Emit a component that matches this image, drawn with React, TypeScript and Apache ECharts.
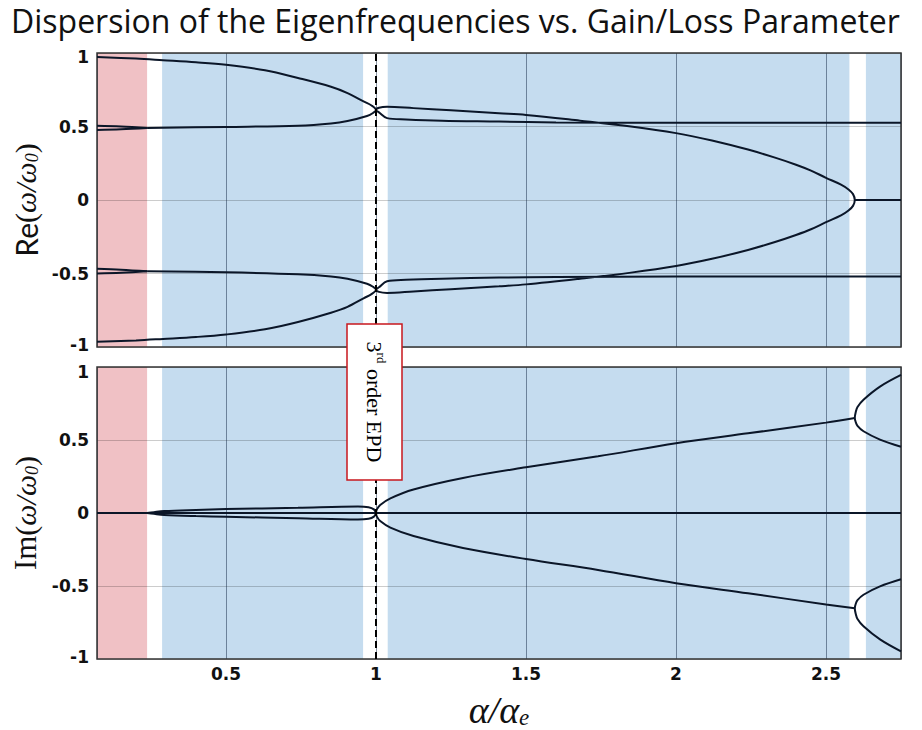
import React, { useEffect, useRef } from "react";
import * as echarts from "echarts";

// ---------- axis / layout values ----------
const X_MIN = 0.07;
const X_MAX = 2.75;
const EPD_ALPHA = 1;
const TITLE = "Dispersion of the Eigenfrequencies vs. Gain/Loss Parameter";
const EPD_LABEL = ["3", "rd", " order EPD"];

// shaded alpha ranges
const pinkBands: number[][] = [[0.07, 0.237]];
const blueBands: number[][] = [
  [0.287, 0.957],
  [1.039, 2.578],
  [2.633, 2.75],
];

// ---------- Re(ω/ω0) branches ----------
const reOuterHi = [[0.07, 0.973], [0.2, 0.962], [0.29, 0.951], [0.4, 0.937], [0.5, 0.92], [0.63, 0.883], [0.74, 0.83], [0.85, 0.77], [0.905, 0.727], [0.96, 0.669], [0.985, 0.643], [1.0, 0.613]];
const reInnerHi = [[0.237, 0.49], [0.5, 0.497], [0.74, 0.505], [0.85, 0.52], [0.905, 0.537], [0.97, 0.571], [0.99, 0.592], [1.0, 0.613]];
const rePinkHiA = [[0.07, 0.505], [0.15, 0.5], [0.237, 0.49]];
const rePinkHiB = [[0.07, 0.476], [0.15, 0.481], [0.237, 0.49]];
const reFlatHi = [[1.0, 0.613], [1.01, 0.596], [1.037, 0.557], [1.1, 0.548], [1.22, 0.539], [1.41, 0.534], [1.6, 0.528], [2.0, 0.525], [2.75, 0.525]];
const reLoopHi = [[1.0, 0.613], [1.01, 0.628], [1.037, 0.635], [1.125, 0.625], [1.25, 0.61], [1.41, 0.59], [1.5, 0.579], [1.68, 0.54], [1.85, 0.5], [2.0, 0.455], [2.12, 0.405], [2.24, 0.343], [2.33, 0.288], [2.4, 0.24], [2.45, 0.2], [2.5, 0.151], [2.55, 0.105], [2.575, 0.072], [2.59, 0.04], [2.596, 0]];

const reOuterLo = [[0.07, -0.965], [0.2, -0.955], [0.29, -0.945], [0.4, -0.932], [0.5, -0.915], [0.63, -0.88], [0.74, -0.83], [0.85, -0.767], [0.905, -0.727], [0.96, -0.667], [0.985, -0.64], [1.0, -0.61]];
const reInnerLo = [[0.237, -0.485], [0.5, -0.492], [0.74, -0.505], [0.85, -0.52], [0.905, -0.536], [0.97, -0.57], [0.99, -0.59], [1.0, -0.61]];
const rePinkLoA = [[0.07, -0.5], [0.15, -0.495], [0.237, -0.485]];
const rePinkLoB = [[0.07, -0.468], [0.15, -0.474], [0.237, -0.485]];
const reFlatLo = [[1.0, -0.61], [1.01, -0.594], [1.037, -0.553], [1.1, -0.543], [1.22, -0.535], [1.41, -0.528], [1.6, -0.523], [2.0, -0.521], [2.75, -0.521]];
const reLoopLo = [[1.0, -0.61], [1.01, -0.625], [1.037, -0.632], [1.125, -0.622], [1.25, -0.607], [1.41, -0.587], [1.5, -0.574], [1.68, -0.535], [1.85, -0.494], [2.0, -0.449], [2.12, -0.4], [2.24, -0.34], [2.33, -0.286], [2.4, -0.238], [2.45, -0.199], [2.5, -0.151], [2.55, -0.105], [2.575, -0.072], [2.59, -0.04], [2.596, 0]];

const reZero = [[2.596, 0], [2.75, 0]];

// ---------- Im(ω/ω0) branches ----------
const imZero = [[0.07, 0], [2.75, 0]];
const imLensHi = [[0.237, 0], [0.26, 0.006], [0.294, 0.013], [0.4, 0.021], [0.5, 0.027], [0.74, 0.036], [0.94, 0.045], [0.975, 0.04], [0.993, 0.025], [1.0, 0]];
const imLensLo = [[0.237, 0], [0.26, -0.006], [0.294, -0.013], [0.4, -0.021], [0.5, -0.026], [0.74, -0.036], [0.94, -0.045], [0.975, -0.04], [0.993, -0.025], [1.0, 0]];
const imBranchHi = [[1.0, 0], [1.003, 0.025], [1.014, 0.055], [1.048, 0.1], [1.125, 0.161], [1.29, 0.24], [1.5, 0.313], [1.74, 0.388], [2.0, 0.478], [2.24, 0.546], [2.5, 0.619], [2.596, 0.651]];
const imBranchLo = [[1.0, 0], [1.003, -0.025], [1.014, -0.055], [1.048, -0.1], [1.125, -0.158], [1.29, -0.24], [1.5, -0.315], [1.74, -0.39], [2.0, -0.481], [2.24, -0.55], [2.5, -0.626], [2.596, -0.652]];
const imSplitHi = [[2.75, 0.454], [2.68, 0.503], [2.625, 0.56], [2.605, 0.597], [2.599, 0.623], [2.596, 0.651], [2.599, 0.69], [2.605, 0.726], [2.625, 0.776], [2.68, 0.866], [2.75, 0.946]];
const imSplitLo = [[2.75, -0.454], [2.68, -0.503], [2.625, -0.56], [2.605, -0.597], [2.599, -0.623], [2.596, -0.652], [2.599, -0.69], [2.605, -0.726], [2.625, -0.776], [2.68, -0.866], [2.75, -0.948]];

const LINE_COLOR = "#0b1628";
const PINK = "#F0C1C5";
const BLUE = "#C5DCEF";

function curve(data: number[][], gi: number) {
  return {
    type: "line",
    xAxisIndex: gi,
    yAxisIndex: gi,
    data,
    symbol: "none",
    showSymbol: false,
    smooth: 0.35,
    silent: true,
    z: 4,
    lineStyle: { color: LINE_COLOR, width: 2 },
  };
}

function bandsSeries(gi: number) {
  const areas: any[] = [];
  pinkBands.forEach((b) => areas.push([{ xAxis: b[0], itemStyle: { color: PINK } }, { xAxis: b[1] }]));
  blueBands.forEach((b) => areas.push([{ xAxis: b[0], itemStyle: { color: BLUE } }, { xAxis: b[1] }]));
  return {
    type: "line",
    xAxisIndex: gi,
    yAxisIndex: gi,
    data: [[X_MIN, 0]],
    symbol: "none",
    lineStyle: { opacity: 0 },
    silent: true,
    z: 1,
    markArea: { silent: true, data: areas },
  };
}

function dashSeries(gi: number) {
  return {
    type: "line",
    xAxisIndex: gi,
    yAxisIndex: gi,
    data: [[X_MIN, 0]],
    symbol: "none",
    lineStyle: { opacity: 0 },
    silent: true,
    z: 5,
    markLine: {
      silent: true,
      symbol: "none",
      label: { show: false },
      lineStyle: { type: [7, 4], color: "#000", width: 2 },
      data: [{ xAxis: EPD_ALPHA }],
    },
  };
}

const tickFont = { fontFamily: "DejaVu Sans", fontWeight: "bold", fontSize: 17, color: "#111" };

function yLabels(topPad: number, botPad: number) {
  return {
    ...tickFont,
    margin: 8,
    formatter: (v: number) => (v === 1 ? "{t|1}" : v === -1 ? "{b|-1}" : "{n|" + v + "}"),
    rich: {
      t: { ...tickFont, padding: [topPad, 0, 0, 0] },
      b: { ...tickFont, padding: [0, 0, botPad, 0] },
      n: { ...tickFont },
    },
  };
}

const nameRich = {
  a: { fontFamily: "Lato", fontSize: 30, color: "#111" },
  r: { fontFamily: "Liberation Serif", fontSize: 31, color: "#111" },
  b: { fontFamily: "Liberation Serif", fontSize: 30, color: "#111" },
  c: { fontFamily: "Liberation Serif", fontStyle: "italic", fontSize: 30, color: "#111" },
  d: { fontFamily: "Liberation Serif", fontStyle: "italic", fontSize: 18, color: "#111", verticalAlign: "bottom" },
};

export default function App() {
  const ref = useRef<HTMLDivElement>(null);
  useEffect(() => {
    if (!ref.current) return;
    const chart = echarts.init(ref.current, undefined, { renderer: "svg" });
    const xBase = (gi: number) => ({
      type: "value",
      gridIndex: gi,
      min: X_MIN,
      max: X_MAX,
      splitNumber: 5,
      z: 2,
      axisLine: { show: false },
      axisTick: { show: false },
      splitLine: { show: true, lineStyle: { color: "rgba(20,40,70,0.5)", width: 1 } },
      axisLabel: gi === 1
        ? { ...tickFont, margin: 6, showMinLabel: false, showMaxLabel: false, formatter: (v: number) => (v < 0.4 || v > 2.6 ? "" : String(v)) }
        : { show: false },
    });
    const yBase = (gi: number) => ({
      type: "value",
      gridIndex: gi,
      min: -1,
      max: 1,
      interval: 0.5,
      z: 2,
      axisLine: { show: false },
      axisTick: { show: false },
      splitLine: { show: true, lineStyle: { color: "rgba(0,0,0,0.2)", width: 1 } },
    });
    const option: any = {
      animation: false,
      backgroundColor: "#fff",
      title: {
        text: TITLE,
        left: 6,
        top: -1,
        textStyle: { fontFamily: "Open Sans", fontWeight: "normal", fontSize: 32, color: "#111" },
      },
      grid: [
        { left: 97, right: 21, top: 53, height: 294, show: true, z: 3, backgroundColor: "transparent", borderColor: "#333", borderWidth: 1.5 },
        { left: 97, right: 21, top: 367, height: 295, show: true, z: 3, backgroundColor: "transparent", borderColor: "#333", borderWidth: 1.5 },
      ],
      xAxis: [
        xBase(0),
        {
          ...xBase(1),
          name: "{c|α/α}{d|e}",
          nameLocation: "middle",
          nameGap: 32,
          nameTextStyle: {
            rich: {
              c: { fontFamily: "Liberation Serif", fontStyle: "italic", fontSize: 38, color: "#111" },
              d: { fontFamily: "Liberation Serif", fontStyle: "italic", fontSize: 23, color: "#111", verticalAlign: "bottom" },
            },
          },
        },
      ],
      yAxis: [
        {
          ...yBase(0),
          axisLabel: yLabels(8, 4),
          name: "{a|Re}{b|(}{c|ω/ω}{d|0}{b|)}",
          nameLocation: "middle",
          nameRotate: 90,
          nameGap: 51,
          nameTextStyle: { rich: nameRich },
        },
        {
          ...yBase(1),
          axisLabel: yLabels(9, 4),
          name: "{r|Im}{b|(}{c|ω/ω}{d|0}{b|)}",
          nameLocation: "middle",
          nameRotate: 90,
          nameGap: 51,
          nameTextStyle: { rich: nameRich },
        },
      ],
      series: [
        bandsSeries(0),
        bandsSeries(1),
        dashSeries(0),
        dashSeries(1),
        curve(reOuterHi.concat(reInnerHi.slice().reverse()), 0),
        curve(rePinkHiA, 0),
        curve(rePinkHiB, 0),
        curve(reFlatHi.slice().reverse().concat(reLoopHi).concat(reLoopLo.slice().reverse()).concat(reFlatLo), 0),
        curve(reOuterLo.concat(reInnerLo.slice().reverse()), 0),
        curve(rePinkLoA, 0),
        curve(rePinkLoB, 0),
        curve(reZero, 0),
        curve(imZero, 1),
        curve(imLensHi, 1),
        curve(imLensLo, 1),
        curve(imBranchHi, 1),
        curve(imBranchLo, 1),
        curve(imSplitHi, 1),
        curve(imSplitLo, 1),
      ],
      graphic: [
        {
          type: "rect",
          z: 100,
          shape: { x: 347, y: 324, width: 55, height: 156 },
          style: { fill: "#fff", stroke: "#C8171E", lineWidth: 1.5 },
        },
        {
          type: "text",
          z: 101,
          x: 374.5,
          y: 402,
          rotation: -Math.PI / 2,
          style: {
            text: "{a|" + EPD_LABEL[0] + "}{s|" + EPD_LABEL[1] + "}{a|" + EPD_LABEL[2] + "}",
            align: "center",
            verticalAlign: "middle",
            rich: {
              a: { fontFamily: "Liberation Serif", fontSize: 22, color: "#111", lineHeight: 26 },
              s: { fontFamily: "Liberation Serif", fontSize: 13, color: "#111", verticalAlign: "top", lineHeight: 15 },
            },
          },
        },
      ],
    };
    chart.setOption(option);
    return () => chart.dispose();
  }, []);
  return <div ref={ref} style={{ position: "fixed", left: 0, top: 0, width: 922, height: 730 }} />;
}
